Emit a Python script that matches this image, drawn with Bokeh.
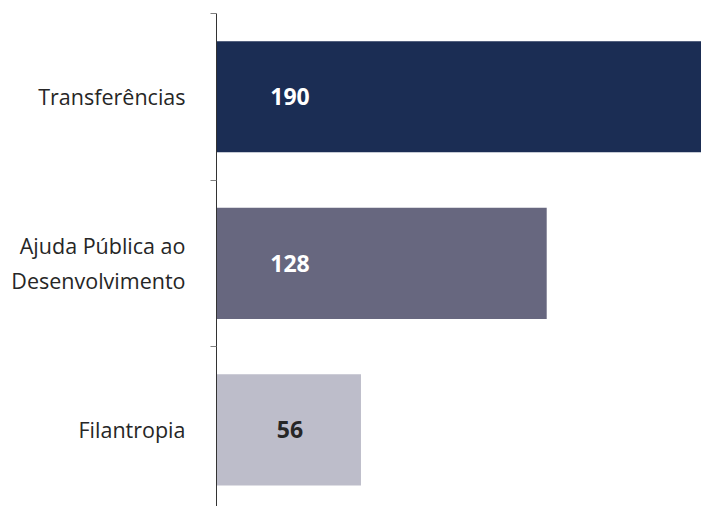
from bokeh.plotting import figure
from bokeh.models import ColumnDataSource, Range1d, FixedTicker
from bokeh.core.properties import value
from bokeh.embed import file_html
from bokeh.resources import INLINE

# Data (bottom to top)
categories = ["Filantropia", "Ajuda Pública ao\nDesenvolvimento", "Transferências"]
values = [56, 128, 190]
bar_colors = ["#bdbdca", "#67677f", "#1b2d54"]
label_colors = ["#262626", "#ffffff", "#ffffff"]

positions = [i + 0.5 for i in range(len(categories))]
label_x = 28.5

src = ColumnDataSource(dict(
    y=positions,
    v=values,
    color=bar_colors,
    tc=label_colors,
    txt=[str(v) for v in values],
    lx=[label_x] * len(values),
))

p = figure(width=701, height=506, output_backend="svg", toolbar_location=None,
           x_range=Range1d(0, 188), y_range=Range1d(0.04, len(categories)),
           min_border_top=13, min_border_bottom=0, min_border_right=0, min_border_left=216,
           x_axis_location=None)
p.outline_line_color = None
p.grid.visible = False
p.background_fill_color = "white"

p.hbar(y="y", right="v", left=0, height=0.667, color="color", line_color=None, source=src)
p.text(x="lx", y="y", text="txt", text_color="tc", source=src,
       text_font=value("Open Sans"), text_font_style="bold", text_font_size="23px",
       text_align="center", text_baseline="middle")

ax = p.yaxis[0]
ax.ticker = FixedTicker(ticks=positions, minor_ticks=list(range(len(categories) + 1)))
ax.major_label_overrides = {pos: cat for pos, cat in zip(positions, categories)}
ax.major_tick_out = 0
ax.major_tick_in = 0
ax.minor_tick_out = 6
ax.minor_tick_in = 0
ax.minor_tick_line_color = "#7f7f7f"
ax.axis_line_color = "#333333"
ax.axis_line_width = 1
ax.major_label_text_font = "Open Sans"
ax.major_label_text_font_size = "21.5px"
ax.major_label_text_color = "#262626"
ax.major_label_standoff = 25

open("out.html", "w").write(file_html(p, INLINE))
